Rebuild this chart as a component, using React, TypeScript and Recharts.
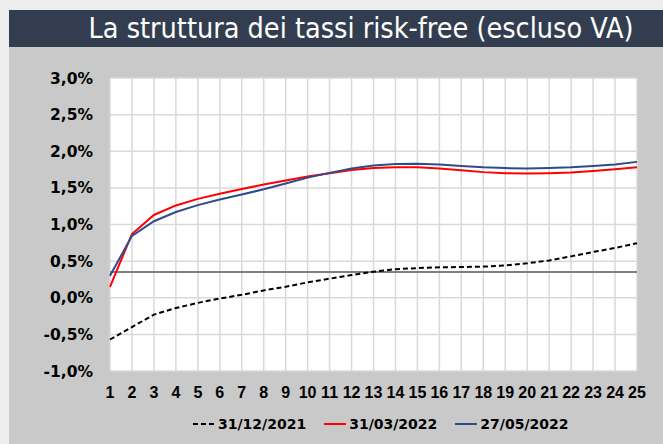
import React from 'react';
import {
  LineChart,
  Line,
  XAxis,
  YAxis,
  CartesianGrid,
  ReferenceLine,
  Legend,
} from 'recharts';

// scadenze (anni)
const maturities = [
  1, 2, 3, 4, 5, 6, 7, 8, 9, 10, 11, 12, 13, 14, 15, 16, 17, 18, 19, 20, 21, 22, 23, 24, 25,
];

// tassi in %
const rates2021 = [
  -0.57, -0.4, -0.23, -0.14, -0.07, -0.01, 0.04, 0.1, 0.15, 0.21, 0.26, 0.31, 0.355, 0.39, 0.405,
  0.415, 0.42, 0.425, 0.44, 0.47, 0.51, 0.565, 0.625, 0.68, 0.745,
];
const rates0322 = [
  0.15, 0.87, 1.13, 1.26, 1.35, 1.42, 1.485, 1.545, 1.6, 1.655, 1.7, 1.745, 1.77, 1.78, 1.78,
  1.765, 1.74, 1.715, 1.7, 1.695, 1.7, 1.71, 1.73, 1.755, 1.78,
];
const rates0522 = [
  0.3, 0.845, 1.045, 1.17, 1.265, 1.34, 1.41, 1.48, 1.56, 1.64, 1.705, 1.765, 1.805, 1.825, 1.83,
  1.82, 1.8, 1.78, 1.77, 1.765, 1.77, 1.78, 1.8, 1.82, 1.855,
];

const seriesNames = ['31/12/2021', '31/03/2022', '27/05/2022'];
const yTicks = [-1, -0.5, 0, 0.5, 1, 1.5, 2, 2.5, 3];
const refLevel = 0.35;

const data = maturities.map((m, i) => ({
  m,
  a: rates2021[i],
  b: rates0322[i],
  c: rates0522[i],
}));

const fmtPct = (v: number) => v.toFixed(1).replace('.', ',') + '%';

const legendItems = [
  { name: seriesNames[0], color: '#000000', dash: '5 3' },
  { name: seriesNames[1], color: '#ff0000', dash: undefined },
  { name: seriesNames[2], color: '#2f4b8a', dash: undefined },
];

function LegendContent() {
  return (
    <div
      style={{
        display: 'flex',
        height: 25,
        alignItems: 'center',
        paddingLeft: 184,
        fontFamily: '"DejaVu Sans", sans-serif',
        fontWeight: 'bold',
        fontSize: 14,
        color: '#000',
      }}
    >
      {legendItems.map((it) => (
        <div key={it.name} style={{ display: 'flex', alignItems: 'center', marginRight: 18 }}>
          <svg width={22} height={6} style={{ marginRight: 3 }}>
            <line
              x1={0}
              y1={3}
              x2={22}
              y2={3}
              stroke={it.color}
              strokeWidth={2}
              strokeDasharray={it.dash}
            />
          </svg>
          <span>{it.name}</span>
        </div>
      ))}
    </div>
  );
}

export default function App() {
  return (
    <div
      style={{
        position: 'absolute',
        left: 0,
        top: 0,
        width: 663,
        height: 444,
        background: '#ededed',
        overflow: 'hidden',
      }}
    >
      <div
        style={{
          position: 'absolute',
          left: 9,
          top: 10,
          width: 654,
          height: 37,
          background: '#323e4f',
          color: '#ffffff',
          fontFamily: '"Liberation Sans Narrow", "DejaVu Sans Condensed", sans-serif',
          fontSize: 28.5,
          lineHeight: '37px',
          textAlign: 'center',
          paddingLeft: 50,
          boxSizing: 'border-box',
        }}
      >
        La struttura dei tassi risk-free (escluso VA)
      </div>
      <div
        style={{
          position: 'absolute',
          left: 9,
          top: 47,
          width: 654,
          height: 397,
          background: '#c9c9c9',
        }}
      >
        <LineChart
          width={654}
          height={397}
          data={data}
          margin={{ top: 31, right: 26, left: 0, bottom: 8 }}
        >
          <CartesianGrid stroke="#d9d9d9" strokeWidth={1.5} fill="#ffffff" />
          <XAxis
            dataKey="m"
            interval={0}
            axisLine={false}
            tickLine={false}
            height={40}
            tickMargin={10}
            tick={{ fill: '#000', fontSize: 16, fontWeight: 'bold', fontFamily: '"Liberation Sans", Arial, sans-serif' }}
          />
          <YAxis
            width={101}
            domain={[-1, 3]}
            ticks={yTicks}
            tickFormatter={fmtPct}
            axisLine={false}
            tickLine={false}
            tickMargin={11}
            tick={{ fill: '#000', fontSize: 15.5, fontWeight: 'bold', fontFamily: '"DejaVu Sans", sans-serif' }}
          />
          <ReferenceLine y={refLevel} stroke="#808080" strokeWidth={2} />
          <Legend verticalAlign="bottom" content={<LegendContent />} />
          <Line
            dataKey="a"
            name={seriesNames[0]}
            stroke="#000000"
            strokeWidth={2}
            strokeDasharray="5 3"
            dot={false}
            type="linear"
            isAnimationActive={false}
          />
          <Line
            dataKey="b"
            name={seriesNames[1]}
            stroke="#ff0000"
            strokeWidth={2}
            dot={false}
            type="linear"
            isAnimationActive={false}
          />
          <Line
            dataKey="c"
            name={seriesNames[2]}
            stroke="#2f4b8a"
            strokeWidth={2}
            dot={false}
            type="linear"
            isAnimationActive={false}
          />
        </LineChart>
      </div>
    </div>
  );
}
